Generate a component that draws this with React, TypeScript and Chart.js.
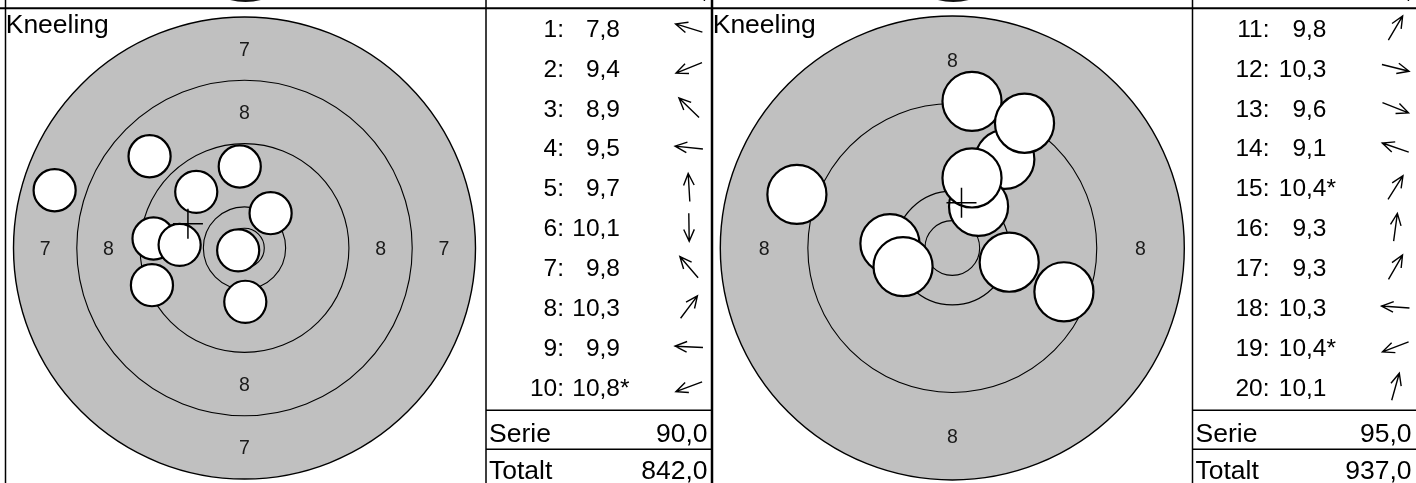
import React, { useEffect, useRef } from "react";
import { Chart, registerables } from "chart.js";

Chart.register(...registerables);

// Target geometry (mm): ring radii for rings 7, 8, 9, 10 and inner ten
const RING_RADII_MM = [29.2, 21.2, 13.2, 5.2, 2.5];
const RING_VALUES = [7, 8, 9, 10];
const BULLET_RADIUS_MM = 2.8;

const POSITION_LABEL = "Kneeling";
const ROW_LABELS = { serie: "Serie", total: "Totalt" };

// Left series (shots 1-10), positions in mm from centre (y up)
const leftShotNumbers = [1, 2, 3, 4, 5, 6, 7, 8, 9, 10];
const leftShotX = [-24.0, -11.7, -12.0, -11.5, -0.6, 0.1, -6.1, 3.3, -8.2, -0.8];
const leftShotY = [7.3, -4.7, 11.6, 1.2, 10.3, -6.8, 7.1, 4.4, 0.4, -0.3];
const leftScores = [7.8, 9.4, 8.9, 9.5, 9.7, 10.1, 9.8, 10.3, 9.9, 10.8];
const leftInnerTen = [false, false, false, false, false, false, false, false, false, true];
const leftSerie = 90.0;
const leftTotal = 842.0;
const leftLabeledRings = [7, 8];
const leftViewRadiusMm = 29.2;

// Right series (shots 11-20)
const rightShotNumbers = [11, 12, 13, 14, 15, 16, 17, 18, 19, 20];
const rightShotX = [4.8, 5.2, 10.2, -14.2, 2.4, 1.8, 6.6, -5.7, -4.5, 1.8];
const rightShotY = [8.1, -1.3, -4.0, 4.9, 3.8, 13.4, 11.4, 0.4, -1.7, 6.4];
const rightScores = [9.8, 10.3, 9.6, 9.1, 10.4, 9.3, 9.3, 10.3, 10.4, 10.1];
const rightInnerTen = [false, false, false, false, true, false, false, false, true, false];
const rightSerie = 95.0;
const rightTotal = 937.0;
const rightLabeledRings = [8];
const rightViewRadiusMm = 21.2;

const FONT = "'Liberation Sans', Arial, Helvetica, sans-serif";
const H = 483;

type PanelProps = {
  left: number;
  width: number;
  shotNumbers: number[];
  shotX: number[];
  shotY: number[];
  scores: number[];
  innerTen: boolean[];
  serie: number;
  total: number;
  labeledRings: number[];
  viewRadiusMm: number;
  centerX: number;
  centerY: number;
  radiusPx: number;
  tableLeft: number;
  tableRight: number;
  indexRight: number;
  vLines: number[];
};

const fmt = (v: number) => v.toFixed(1).replace(".", ",");

function makePlugin(p: PanelProps) {
  return {
    id: "targetPanel",
    beforeDraw(chart: any) {
      const ctx = chart.ctx;
      const cx = chart.scales.x.getPixelForValue(0);
      ctx.save();
      ctx.beginPath();
      ctx.rect(0, 0, p.width, 7);
      ctx.clip();
      ctx.beginPath();
      ctx.arc(cx + 1, -58, 60, 0, Math.PI * 2);
      ctx.fillStyle = "#111";
      ctx.fill();
      ctx.fillStyle = "#000";
      ctx.font = `24px ${FONT}`;
      ctx.textAlign = "right";
      ctx.fillText(",", p.tableRight - 4, -2);
      ctx.restore();
    },
    beforeDatasetsDraw(chart: any) {
      const ctx = chart.ctx;
      const sx = chart.scales.x;
      const sy = chart.scales.y;
      const cx = sx.getPixelForValue(0);
      const cy = sy.getPixelForValue(0);
      const k = Math.abs(sx.getPixelForValue(1) - cx);
      const visible = RING_RADII_MM.filter((r) => r <= p.viewRadiusMm + 1e-6);
      ctx.save();
      ctx.beginPath();
      ctx.arc(cx, cy, visible[0] * k, 0, Math.PI * 2);
      ctx.fillStyle = "#c0c0c0";
      ctx.fill();
      visible.forEach((r, i) => {
        ctx.beginPath();
        ctx.arc(cx, cy, r * k, 0, Math.PI * 2);
        ctx.lineWidth = i === 0 ? 1.4 : 1.1;
        ctx.strokeStyle = "#000";
        ctx.stroke();
      });
      ctx.fillStyle = "#1a1a1a";
      ctx.font = `19.5px ${FONT}`;
      ctx.textAlign = "center";
      ctx.textBaseline = "alphabetic";
      p.labeledRings.forEach((v) => {
        const idx = RING_VALUES.indexOf(v);
        const mid = ((RING_RADII_MM[idx] + RING_RADII_MM[idx + 1]) / 2) * k;
        const off = 7;
        ctx.fillText(String(v), cx, cy - mid + off);
        ctx.fillText(String(v), cx, cy + mid + off);
        ctx.fillText(String(v), cx - mid, cy + off);
        ctx.fillText(String(v), cx + mid, cy + off);
      });
      ctx.restore();
    },
    afterDatasetsDraw(chart: any) {
      const ctx = chart.ctx;
      const sx = chart.scales.x;
      const sy = chart.scales.y;
      const n = p.shotX.length;
      const mx = p.shotX.reduce((a, b) => a + b, 0) / n;
      const my = p.shotY.reduce((a, b) => a + b, 0) / n;
      const px = sx.getPixelForValue(mx);
      const py = sy.getPixelForValue(my);
      ctx.save();
      ctx.strokeStyle = "#000";
      ctx.lineWidth = 1.5;
      ctx.beginPath();
      ctx.moveTo(px - 15, py);
      ctx.lineTo(px + 15, py);
      ctx.moveTo(px, py - 15);
      ctx.lineTo(px, py + 15);
      ctx.stroke();
      ctx.restore();
    },
    afterDraw(chart: any) {
      const ctx = chart.ctx;
      ctx.save();
      // title
      ctx.fillStyle = "#000";
      ctx.font = `26.5px ${FONT}`;
      ctx.textAlign = "left";
      ctx.textBaseline = "alphabetic";
      ctx.fillText(POSITION_LABEL, p.vLines[0] + 0.2, 33);

      // table rows
      const tl = p.tableLeft;
      ctx.font = `24.5px ${FONT}`;
      p.shotNumbers.forEach((num, i) => {
        const yc = 28 + 39.86 * i;
        const base = yc + 8.8;
        ctx.textAlign = "right";
        ctx.fillText(`${num}:`, tl + p.indexRight, base);
        ctx.fillText(fmt(p.scores[i]), tl + 134, base);
        if (p.innerTen[i]) {
          ctx.textAlign = "left";
          ctx.fillText("*", tl + 134, base);
        }
        // direction arrow
        const ang = Math.atan2(-p.shotY[i], p.shotX[i]);
        const ax = tl + 203;
        const L = 14;
        const tipX = ax + L * Math.cos(ang);
        const tipY = yc + L * Math.sin(ang);
        const tailX = ax - L * Math.cos(ang);
        const tailY = yc - L * Math.sin(ang);
        const hl = 13;
        const ha = 0.42;
        ctx.beginPath();
        ctx.moveTo(tailX, tailY);
        ctx.lineTo(tipX, tipY);
        ctx.moveTo(tipX - hl * Math.cos(ang - ha), tipY - hl * Math.sin(ang - ha));
        ctx.lineTo(tipX, tipY);
        ctx.lineTo(tipX - hl * Math.cos(ang + ha), tipY - hl * Math.sin(ang + ha));
        ctx.strokeStyle = "#000";
        ctx.lineWidth = 1.4;
        ctx.stroke();
      });

      ctx.font = `26.5px ${FONT}`;
      ctx.textAlign = "left";
      ctx.fillText(ROW_LABELS.serie, tl + 3, 441.5);
      ctx.fillText(ROW_LABELS.total, tl + 3, 478.5);
      ctx.textAlign = "right";
      ctx.fillText(fmt(p.serie), p.tableRight - 4.5, 441.5);
      ctx.fillText(fmt(p.total), p.tableRight - 4.5, 478.5);

      // lines
      ctx.strokeStyle = "#000";
      ctx.lineWidth = 2;
      ctx.beginPath();
      ctx.moveTo(0, 8.3);
      ctx.lineTo(p.width, 8.3);
      ctx.stroke();
      ctx.lineWidth = 1.5;
      ctx.beginPath();
      p.vLines.forEach((x) => {
        ctx.moveTo(x, 0);
        ctx.lineTo(x, H);
      });
      ctx.moveTo(tl, 410.3);
      ctx.lineTo(p.tableRight, 410.3);
      ctx.moveTo(tl, 449.3);
      ctx.lineTo(p.tableRight, 449.3);
      ctx.stroke();
      ctx.restore();
    },
  };
}

function Panel(p: PanelProps) {
  const ref = useRef<HTMLCanvasElement | null>(null);
  useEffect(() => {
    if (!ref.current) return;
    const R = p.viewRadiusMm;
    const chart = new Chart(ref.current, {
      type: "scatter",
      data: {
        datasets: [
          {
            data: p.shotX.map((x, i) => ({ x, y: p.shotY[i] })),
            backgroundColor: "#ffffff",
            borderColor: "#000000",
            borderWidth: 2.2,
            pointRadius: (c: any) => {
              const s = c.chart.scales.x;
              return Math.abs(s.getPixelForValue(BULLET_RADIUS_MM) - s.getPixelForValue(0)) - 1.1;
            },
            pointHoverRadius: 0,
            clip: false as any,
          },
        ],
      },
      options: {
        animation: false,
        responsive: false,
        devicePixelRatio: 1,
        events: [],
        layout: {
          padding: {
            left: p.centerX - p.radiusPx,
            right: p.width - (p.centerX + p.radiusPx),
            top: p.centerY - p.radiusPx,
            bottom: H - (p.centerY + p.radiusPx),
          },
        },
        scales: {
          x: { type: "linear", min: -R, max: R, display: false },
          y: { type: "linear", min: -R, max: R, display: false },
        },
        plugins: { legend: { display: false }, tooltip: { enabled: false } },
      },
      plugins: [makePlugin(p) as any],
    });
    return () => chart.destroy();
  }, []);
  return (
    <canvas
      ref={ref}
      width={p.width}
      height={H}
      style={{ position: "absolute", left: p.left, top: 0, width: p.width, height: H }}
    />
  );
}

export default function App() {
  return (
    <div style={{ position: "fixed", left: 0, top: 0, width: 1416, height: H, background: "#fff", overflow: "hidden" }}>
      <Panel
        left={0}
        width={712}
        shotNumbers={leftShotNumbers}
        shotX={leftShotX}
        shotY={leftShotY}
        scores={leftScores}
        innerTen={leftInnerTen}
        serie={leftSerie}
        total={leftTotal}
        labeledRings={leftLabeledRings}
        viewRadiusMm={leftViewRadiusMm}
        centerX={244.5}
        centerY={248}
        radiusPx={231}
        tableLeft={486}
        tableRight={712}
        indexRight={78}
        vLines={[5.5, 486, 711.5]}
      />
      <Panel
        left={712}
        width={704}
        shotNumbers={rightShotNumbers}
        shotX={rightShotX}
        shotY={rightShotY}
        scores={rightScores}
        innerTen={rightInnerTen}
        serie={rightSerie}
        total={rightTotal}
        labeledRings={rightLabeledRings}
        viewRadiusMm={rightViewRadiusMm}
        centerX={240.3}
        centerY={248}
        radiusPx={232}
        tableLeft={480.5}
        tableRight={704}
        indexRight={77}
        vLines={[0.5, 480.5]}
      />
    </div>
  );
}
